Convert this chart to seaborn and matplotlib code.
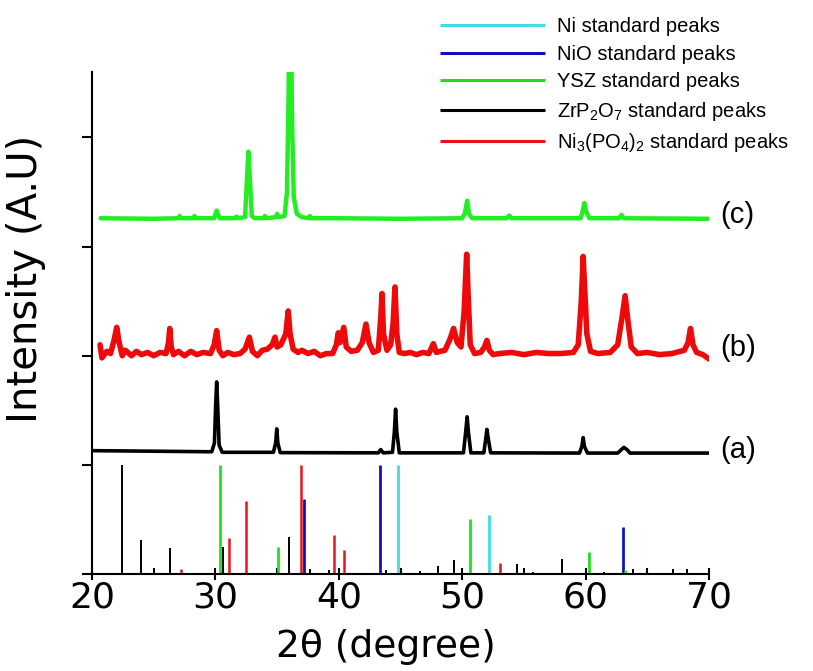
import numpy as np
import pandas as pd
import seaborn as sns
import matplotlib.pyplot as plt

# Стандартные пики (положение 2θ и относительная высота)
ni_pos = [44.8, 52.2]
ni_h = [1.0, 0.54]
nio_pos = [37.2, 43.3, 63.0]
nio_h = [0.69, 1.0, 0.43]
ysz_pos = [30.4, 35.1, 50.6, 60.3, 63.2]
ysz_h = [1.0, 0.25, 0.50, 0.20, 0.04]
zrp_pos = [22.4, 24.0, 26.3, 30.6, 36.0, 37.7, 39.2, 40.9, 43.8, 46.6, 48.0, 49.3,
           54.4, 55.7, 58.1, 61.5, 63.8, 67.1, 68.2]
zrp_h = [1.0, 0.31, 0.24, 0.25, 0.34, 0.05, 0.04, 0.01, 0.04, 0.03, 0.07, 0.13,
         0.09, 0.02, 0.14, 0.02, 0.05, 0.05, 0.05]
ni3_pos = [27.2, 31.1, 32.5, 36.9, 39.6, 40.4, 53.1]
ni3_h = [0.05, 0.33, 0.67, 1.0, 0.36, 0.22, 0.10]

# Дифрактограмма (a)
a_x = [20.0, 25.0, 29.7, 29.92, 30.02, 30.1, 30.18, 30.3, 30.55, 34.7, 34.88, 34.97,
       35.06, 35.25, 43.2, 43.4, 43.6, 44.35, 44.5, 44.6, 44.7, 44.9, 50.1, 50.28,
       50.4, 50.5, 50.7, 51.75, 51.92, 52.0, 52.1, 52.3, 59.5, 59.7, 59.8, 59.9,
       60.15, 62.6, 62.9, 63.1, 63.35, 63.6, 70.0]
a_y = [1.13, 1.125, 1.12, 1.2, 1.55, 1.76, 1.55, 1.18, 1.115, 1.115, 1.2, 1.33,
       1.2, 1.112, 1.11, 1.14, 1.11, 1.115, 1.3, 1.51, 1.3, 1.11, 1.11, 1.3,
       1.44, 1.3, 1.11, 1.11, 1.25, 1.325, 1.25, 1.11, 1.108, 1.17, 1.25, 1.17,
       1.108, 1.108, 1.14, 1.16, 1.14, 1.108, 1.108]

# Дифрактограмма (b)
b_x = [20.65, 20.8, 21.2, 21.5, 21.8, 22.0, 22.2, 22.45, 22.7, 23.2, 23.6, 24.0,
       24.5, 25.0, 25.5, 26.0, 26.2, 26.3, 26.42, 26.6, 27.0, 27.5, 28.0, 28.5,
       29.0, 29.6, 29.9, 30.1, 30.3, 30.6, 31.0, 31.5, 32.0, 32.4, 32.75, 33.0,
       33.4, 33.8, 34.2, 34.6, 34.83, 35.0, 35.3, 35.7, 35.9, 36.05, 36.3, 36.7,
       37.0, 37.5, 38.0, 38.5, 39.0, 39.5, 39.8, 39.96, 40.1, 40.4, 40.6, 41.0,
       41.5, 41.9, 42.2, 42.45, 42.8, 43.2, 43.4, 43.5, 43.62, 43.9, 44.2, 44.4,
       44.55, 44.7, 44.9, 45.3, 45.8, 46.3, 46.8, 47.3, 47.66, 47.9, 48.2, 48.6,
       49.0, 49.3, 49.6, 49.9, 50.15, 50.36, 50.5, 50.65, 51.0, 51.5, 51.8, 52.0,
       52.2, 52.5, 53.0, 54.0, 55.0, 56.0, 57.0, 58.0, 59.0, 59.4, 59.65, 59.8,
       59.95, 60.1, 60.4, 61.0, 62.0, 62.6, 62.95, 63.2, 63.45, 63.7, 64.2, 65.0,
       66.0, 67.0, 68.0, 68.3, 68.5, 68.7, 69.0, 69.5, 70.0]
b_y = [2.10, 1.98, 2.04, 2.02, 2.15, 2.26, 2.12, 2.00, 2.05, 2.00, 2.04, 2.01,
       2.03, 2.00, 2.03, 2.02, 2.12, 2.25, 2.08, 2.01, 2.04, 2.00, 2.04, 2.01,
       2.03, 2.02, 2.10, 2.23, 2.05, 2.00, 2.03, 2.01, 2.02, 2.06, 2.17, 2.04,
       2.00, 2.05, 2.06, 2.10, 2.17, 2.08, 2.10, 2.20, 2.41, 2.20, 2.06, 2.03,
       2.05, 2.02, 2.04, 2.00, 2.02, 2.02, 2.10, 2.21, 2.12, 2.26, 2.08, 2.04,
       2.05, 2.12, 2.29, 2.12, 2.03, 2.05, 2.35, 2.57, 2.20, 2.05, 2.10, 2.30,
       2.63, 2.20, 2.03, 2.02, 2.03, 2.01, 2.03, 2.02, 2.11, 2.03, 2.04, 2.05,
       2.15, 2.25, 2.12, 2.08, 2.40, 2.93, 2.50, 2.10, 2.02, 2.03, 2.08, 2.14,
       2.05, 2.01, 2.02, 2.03, 2.01, 2.03, 2.02, 2.02, 2.03, 2.10, 2.50, 2.91,
       2.55, 2.20, 2.04, 2.02, 2.03, 2.10, 2.35, 2.55, 2.30, 2.08, 2.02, 2.03,
       2.01, 2.02, 2.05, 2.12, 2.25, 2.10, 2.03, 2.01, 1.97]

# Дифрактограмма (c)
c_x = [20.7, 25.0, 27.0, 27.1, 27.2, 28.2, 28.3, 28.4, 29.9, 30.0, 30.1, 30.2,
       30.35, 31.6, 31.7, 31.8, 32.4, 32.55, 32.67, 32.8, 32.95, 33.2, 33.9, 34.0,
       34.1, 34.9, 35.0, 35.1, 35.6, 35.8, 35.93, 36.0, 36.12, 36.2, 36.35, 36.6,
       37.0, 37.6, 37.66, 37.75, 40.0, 45.0, 50.0, 50.2, 50.4, 50.55, 50.8, 53.6,
       53.8, 54.0, 59.6, 59.75, 59.9, 60.05, 60.3, 62.7, 62.9, 63.1, 70.0]
c_y = [3.26, 3.255, 3.26, 3.28, 3.26, 3.26, 3.28, 3.26, 3.26, 3.30, 3.33, 3.30,
       3.26, 3.26, 3.275, 3.26, 3.27, 3.60, 3.87, 3.60, 3.28, 3.26, 3.26, 3.28,
       3.26, 3.27, 3.30, 3.27, 3.28, 3.50, 4.40, 5.20, 5.20, 4.20, 3.45, 3.30,
       3.27, 3.26, 3.28, 3.26, 3.26, 3.255, 3.26, 3.30, 3.42, 3.30, 3.26, 3.26,
       3.285, 3.26, 3.26, 3.32, 3.40, 3.32, 3.26, 3.26, 3.29, 3.26, 3.255]

sns.set_style('ticks')
plt.rcParams['font.family'] = ['Liberation Sans', 'DejaVu Sans']
plt.rcParams['mathtext.fontset'] = 'custom'
plt.rcParams['mathtext.rm'] = 'Liberation Sans'
plt.rcParams['mathtext.it'] = 'Liberation Sans:italic'
for k in ['text.color', 'axes.labelcolor', 'xtick.color', 'ytick.color',
          'axes.edgecolor']:
    plt.rcParams[k] = 'black'

fig = plt.figure(figsize=(8.13, 6.71), dpi=100)
ax = fig.add_axes([0.1132, 0.1446, 0.7589, 0.7481])

# Штрих-диаграммы стандартов
ax.vlines(ni_pos, 0, ni_h, color='#3ddcea', lw=2.0, label='Ni standard peaks')
ax.vlines(nio_pos, 0, nio_h, color='#1010c0', lw=2.0, label='NiO standard peaks')
ax.vlines(ysz_pos, 0, ysz_h, color='#1fe01f', lw=2.0, label='YSZ standard peaks')
ax.vlines(zrp_pos, 0, zrp_h, color='black', lw=1.4,
          label=r'ZrP$_2$O$_7$ standard peaks')
ax.vlines(ni3_pos, 0, ni3_h, color='#e8141a', lw=1.8,
          label=r'Ni$_3$(PO$_4$)$_2$ standard peaks')

# Дифрактограммы образцов
sns.lineplot(x=a_x, y=a_y, color='black', lw=2.6, sort=False, estimator=None,
             legend=False, ax=ax)
sns.lineplot(x=b_x, y=b_y, color='#ee0a0a', lw=4.0, sort=False, estimator=None,
             legend=False, ax=ax)
sns.lineplot(x=c_x, y=c_y, color='#22ee22', lw=3.2, sort=False, estimator=None,
             legend=False, ax=ax)

for lab, yy in [('(c)', 3.29), ('(b)', 2.07), ('(a)', 1.135)]:
    ax.text(70.9, yy, lab, fontsize=21, va='center', ha='left', clip_on=False)

ax.set_xlim(20, 70)
ax.set_ylim(0, 4.6)
ax.set_xticks([20, 30, 40, 50, 60, 70])
ax.set_xticks([25, 35, 45, 55, 65], minor=True)
ax.set_yticks([0, 1, 2, 3, 4])
ax.set_yticklabels([])
ax.tick_params(axis='x', which='major', direction='inout', length=8, width=1.5,
               labelsize=26, pad=1)
ax.tick_params(axis='x', which='minor', direction='in', length=4, width=1.5)
ax.tick_params(axis='y', direction='out', length=7, width=1.5)
for t in ax.get_xticklabels():
    t.set_family('DejaVu Sans')
for s in ['left', 'bottom']:
    ax.spines[s].set_linewidth(1.5)
sns.despine(ax=ax)

ax.set_xlabel('2θ (degree)', fontsize=27, family='DejaVu Sans')
ax.xaxis.set_label_coords(0.476, -0.11)
ax.set_ylabel('Intensity (A.U)', fontsize=29, family='DejaVu Sans')
ax.yaxis.set_label_coords(-0.075, 0.588)

leg = ax.legend(loc='upper left', bbox_to_anchor=(0.541, 0.974),
                bbox_transform=fig.transFigure, frameon=False, fontsize=14.5,
                handlelength=5.2, handletextpad=0.6, labelspacing=0.42,
                borderpad=0, borderaxespad=0)
for h in leg.legend_handles:
    h.set_linewidth(2.2)

fig.savefig('out.png', dpi=100)
